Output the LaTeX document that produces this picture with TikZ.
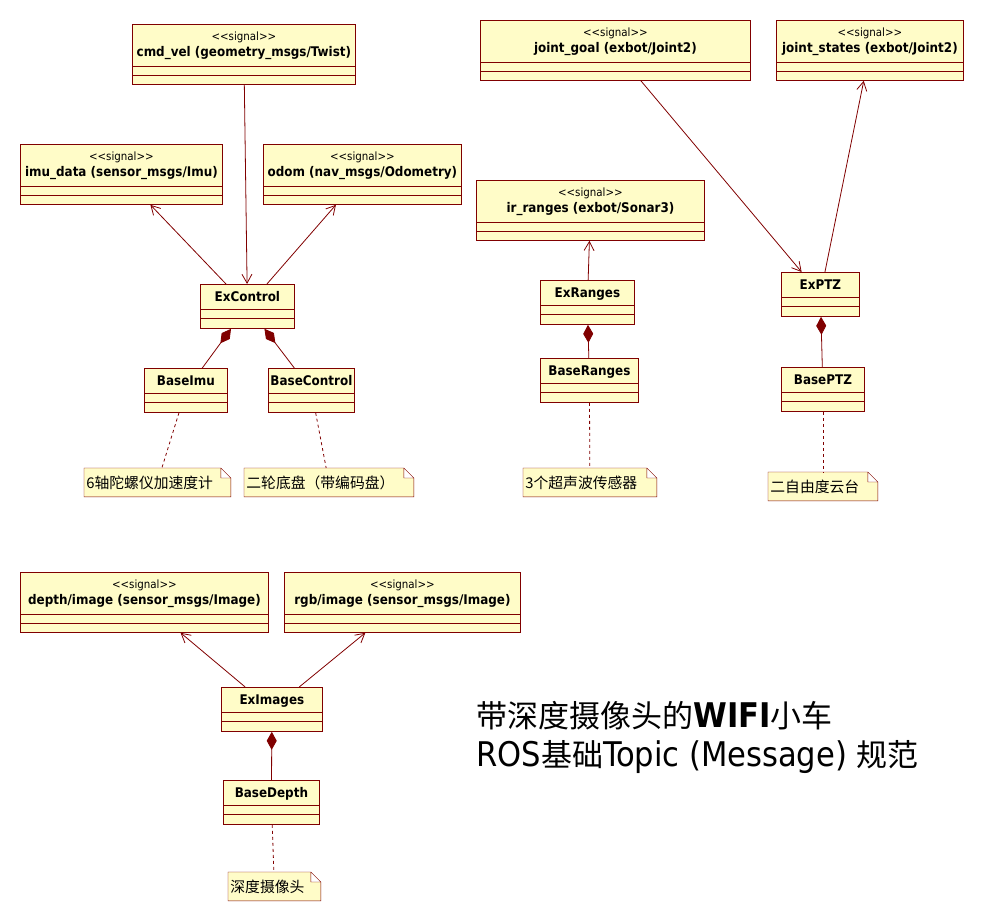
\documentclass[tikz,border=0pt]{standalone}
\usepackage{fontspec}
\setmainfont{DejaVu Sans Condensed}
\newfontfamily\cjk{Noto Sans CJK SC}
\usetikzlibrary{arrows.meta,backgrounds,positioning}
\definecolor{umlline}{RGB}{128,0,0}
\definecolor{umlfill}{RGB}{255,252,200}
\newcommand{\sigtag}{<\kern0pt<signal>\kern0pt>}
\newcommand{\zh}[1]{{\cjk\fontsize{31}{34}\selectfont #1}}
\tikzset{
    box/.style={draw=umlline, fill=umlfill, anchor=north west, inner sep=0pt},
    sigbox/.style={box, minimum height=60pt},
    classbox/.style={box, minimum height=44pt},
    stereo/.style={anchor=base, inner sep=0pt, font=\fontsize{11.4}{13}\selectfont},
    boxname/.style={anchor=base, inner sep=0pt, font=\bfseries\fontsize{13.3}{15}\selectfont},
    notebox/.style={anchor=north west, minimum height=28pt, inner xsep=2pt, inner ysep=0pt,
        align=left, font=\cjk\fontsize{14.8}{16}\selectfont},
    assoc/.style={draw=umlline, -{Straight Barb[length=9pt,width=10pt]}},
    compose/.style={draw=umlline, {Diamond[length=18pt,width=10pt,fill=umlline]}-},
    anchorline/.style={draw=umlline, dashed},
    heading/.style={anchor=base west, inner sep=0pt, font=\fontsize{34}{38}\selectfont}
}
\begin{document}
\begin{tikzpicture}[x=1pt, y=-1pt, line width=0.8pt]
    \useasboundingbox (0,0) rectangle (984,921);
    % signal boxes
    \node[sigbox, minimum width=223pt] (cmdvel) at (132,24) {};
    \node[sigbox, minimum width=202pt] (imudata) at (20,144) {};
    \node[sigbox, minimum width=198pt] (odom) at (263,144) {};
    \node[sigbox, minimum width=270pt] (jointgoal) at (480,20) {};
    \node[sigbox, minimum width=187pt] (jointstates) at (776,20) {};
    \node[sigbox, minimum width=228pt] (irranges) at (476,180) {};
    \node[sigbox, minimum width=248pt] (depthimg) at (20,572) {};
    \node[sigbox, minimum width=236pt] (rgbimg) at (284,572) {};
    \foreach \b in {cmdvel,imudata,odom,jointgoal,jointstates,irranges,depthimg,rgbimg} {
        \draw[umlline] ([yshift=18pt]\b.south west) -- ([yshift=18pt]\b.south east)
            ([yshift=9pt]\b.south west) -- ([yshift=9pt]\b.south east);
        \node[stereo] (\b-tag) at ([yshift=-16.7pt]\b.north) {\sigtag};
    }
    \node[boxname] (cmdvel-name) at ([yshift=-32.7pt]cmdvel.north) {cmd\_vel (geometry\_msgs/Twist)};
    \node[boxname] (imudata-name) at ([yshift=-32.7pt]imudata.north) {imu\_data (sensor\_msgs/Imu)};
    \node[boxname] (odom-name) at ([yshift=-32.7pt]odom.north) {odom (nav\_msgs/Odometry)};
    \node[boxname] (jointgoal-name) at ([yshift=-32.7pt]jointgoal.north) {joint\_goal (exbot/Joint2)};
    \node[boxname] (jointstates-name) at ([yshift=-32.7pt]jointstates.north) {joint\_states (exbot/Joint2)};
    \node[boxname] (irranges-name) at ([yshift=-32.7pt]irranges.north) {ir\_ranges (exbot/Sonar3)};
    \node[boxname] (depthimg-name) at ([yshift=-32.7pt]depthimg.north) {depth/image (sensor\_msgs/Image)};
    \node[boxname] (rgbimg-name) at ([yshift=-32.7pt]rgbimg.north) {rgb/image (sensor\_msgs/Image)};
    % class boxes
    \node[classbox, minimum width=94pt] (excontrol) at (200,284) {};
    \node[classbox, minimum width=83pt] (baseimu) at (144,368) {};
    \node[classbox, minimum width=86pt] (basecontrol) at (268,368) {};
    \node[classbox, minimum width=94pt] (exranges) at (540,280) {};
    \node[classbox, minimum width=98pt] (baseranges) at (540,358) {};
    \node[classbox, minimum width=78pt] (exptz) at (781,272) {};
    \node[classbox, minimum width=83pt] (baseptz) at (781,367) {};
    \node[classbox, minimum width=101pt] (eximages) at (221,687) {};
    \node[classbox, minimum width=96pt] (basedepth) at (223,780) {};
    \foreach \b/\t in {excontrol/ExControl, baseimu/BaseImu, basecontrol/BaseControl,
        exranges/ExRanges, baseranges/BaseRanges, exptz/ExPTZ, baseptz/BasePTZ,
        eximages/ExImages, basedepth/BaseDepth} {
        \draw[umlline] ([yshift=19pt]\b.south west) -- ([yshift=19pt]\b.south east)
            ([yshift=10pt]\b.south west) -- ([yshift=10pt]\b.south east);
        \node[boxname] (\b-name) at ([yshift=-17pt]\b.north) {\t};
    }
    % notes
    \node[notebox, text width=142pt] (imunote) at (84,468) {6轴陀螺仪加速度计};
    \node[notebox, text width=165pt] (controlnote) at (244,468) {二轮底盘（带编码盘）};
    \node[notebox, text width=129pt] (rangesnote) at (523,468) {3个超声波传感器};
    \node[notebox, text width=105pt] (ptznote) at (768,472) {二自由度云台};
    \node[notebox, text width=88pt] (depthnote) at (228,872) {深度摄像头};
    \begin{scope}[on background layer]
        \foreach \n in {imunote,controlnote,rangesnote,ptznote,depthnote}
            \filldraw[draw=umlline, fill=umlfill] (\n.south west) -- (\n.north west)
                -- ([xshift=-10pt]\n.north east) -- ([yshift=-10pt]\n.north east)
                -- (\n.south east) -- cycle
                ([xshift=-10pt]\n.north east) -- ([xshift=-10pt,yshift=-10pt]\n.north east)
                -- ([yshift=-10pt]\n.north east);
    \end{scope}
    % connectors
    \draw[assoc] (cmdvel) -- (excontrol);
    \draw[assoc] (excontrol) -- (imudata);
    \draw[assoc] (excontrol) -- (odom);
    \draw[compose] (excontrol) -- (baseimu);
    \draw[compose] (excontrol) -- (basecontrol);
    \draw[anchorline] (baseimu) -- (imunote);
    \draw[anchorline] (basecontrol) -- (controlnote);
    \draw[assoc] (exranges) -- (irranges);
    \draw[compose] (exranges) -- (baseranges);
    \draw[anchorline] (baseranges) -- (rangesnote);
    \draw[assoc] (jointgoal) -- (exptz);
    \draw[assoc] (exptz) -- (jointstates);
    \draw[compose] (exptz) -- (baseptz);
    \draw[anchorline] (baseptz) -- (ptznote);
    \draw[assoc] (eximages) -- (depthimg);
    \draw[assoc] (eximages) -- (rgbimg);
    \draw[compose] (eximages) -- (basedepth);
    \draw[anchorline] (basedepth) -- (depthnote);
    % title
    \node[heading] (title1) at (476,727) {\zh{带深度摄像头的}\textbf{WIFI}\zh{小车}};
    \node[heading] (title2) at (476,766) {ROS\zh{基础}Topic (Message) \zh{规范}};
\end{tikzpicture}
\end{document}
